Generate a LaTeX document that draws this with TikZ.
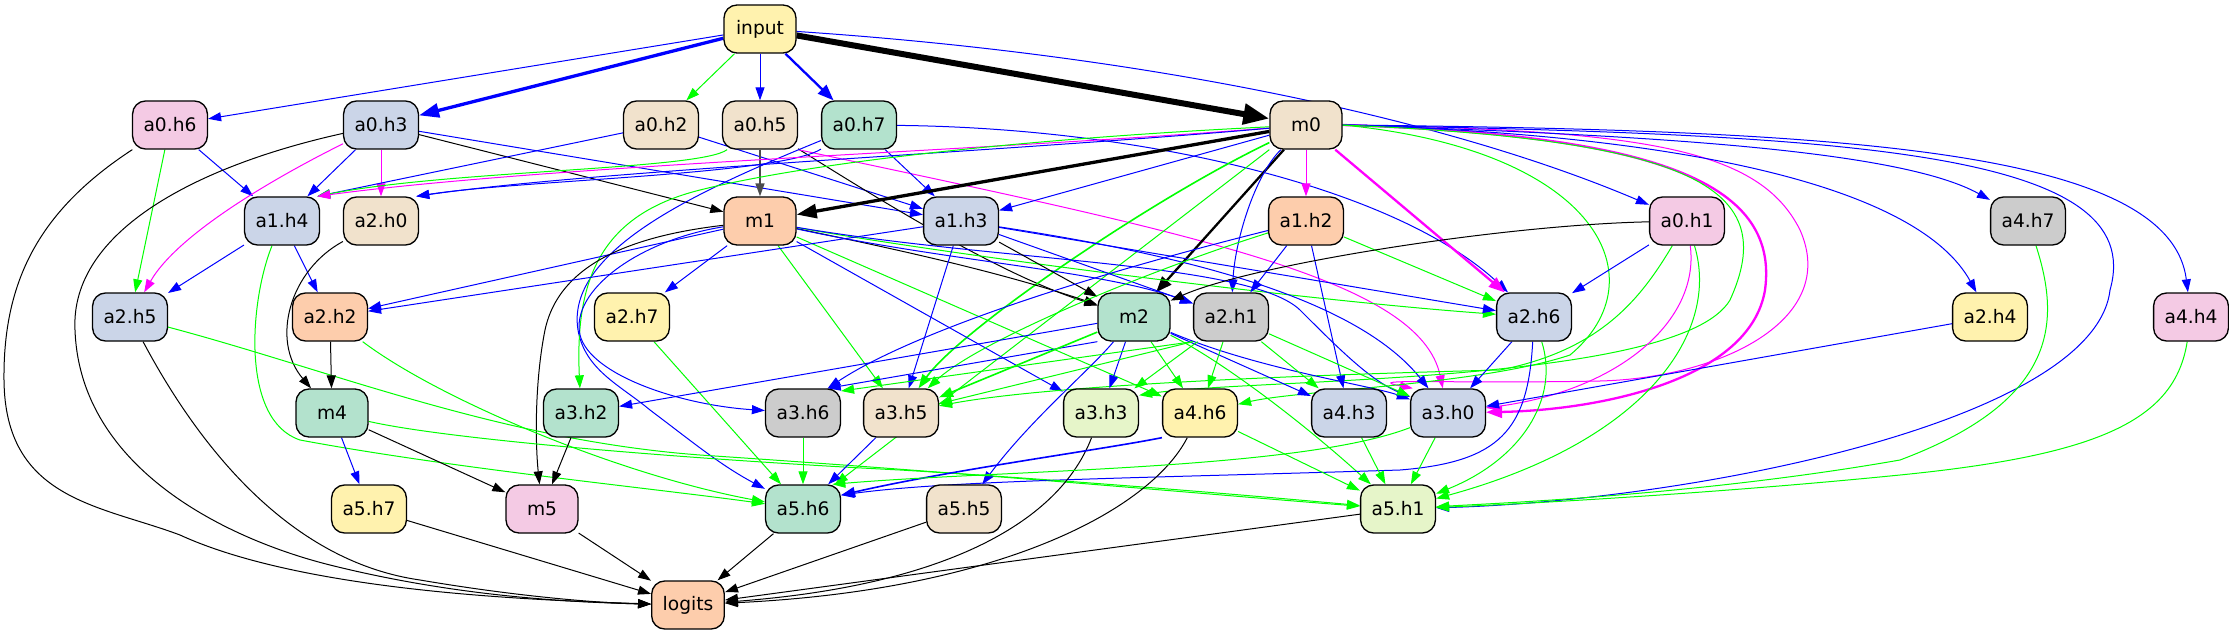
\documentclass[tikz,border=0pt]{standalone}
\usepackage{fontspec}
\setmainfont{DejaVu Sans}
\usetikzlibrary{arrows.meta}
\definecolor{pgreen}{HTML}{B3E2CD}
\definecolor{porange}{HTML}{FDCDAC}
\definecolor{pblue}{HTML}{CBD5E8}
\definecolor{ppink}{HTML}{F4CAE4}
\definecolor{plime}{HTML}{E6F5C9}
\definecolor{pyellow}{HTML}{FFF2AE}
\definecolor{ptan}{HTML}{F1E2CC}
\definecolor{pgray}{HTML}{CCCCCC}
\definecolor{eblue}{rgb}{0,0,1}
\definecolor{egreen}{rgb}{0,1,0}
\definecolor{emag}{rgb}{1,0,1}
\pgfdeclarelayer{bg}
\pgfsetlayers{bg,main}
\tikzset{
  nd/.style={draw=black, line width=1.33bp, rounded corners=13bp, minimum width=72bp, minimum height=48bp, inner xsep=11bp, inner ysep=0bp, font=\fontsize{18.7}{22}\selectfont},
  ed/.style={line width=1bp, -{Triangle[length=13bp,width=9bp]}},
  B/.style={ed, draw=eblue},
  G/.style={ed, draw=egreen},
  M/.style={ed, draw=emag},
  K/.style={ed, draw=black},
  w15/.style={line width=1.6bp, -{Triangle[length=14bp,width=10bp]}},
  w2/.style={line width=2.3bp, -{Triangle[length=16bp,width=12bp]}},
  w3/.style={line width=3.3bp, -{Triangle[length=20bp,width=14bp]}},
  w6/.style={line width=6bp, -{Triangle[length=26bp,width=20bp]}},
}
\begin{document}
\begin{tikzpicture}[x=1bp,y=-1bp]
\path[use as bounding box] (0,0) rectangle (2229,635);
% nodes
\node[nd, fill=pyellow] (input) at (760,29) {input};
\node[nd, fill=ppink] (a0h6) at (170,125) {a0.h6};
\node[nd, fill=pblue] (a0h3) at (381,125) {a0.h3};
\node[nd, fill=ptan] (a0h2) at (661,125) {a0.h2};
\node[nd, fill=ptan] (a0h5) at (760,125) {a0.h5};
\node[nd, fill=pgreen] (a0h7) at (859,125) {a0.h7};
\node[nd, fill=ptan] (m0) at (1306,125) {m0};
\node[nd, fill=pblue] (a1h4) at (282,221) {a1.h4};
\node[nd, fill=ptan] (a2h0) at (381,221) {a2.h0};
\node[nd, fill=porange] (m1) at (760,221) {m1};
\node[nd, fill=pblue] (a1h3) at (961,221) {a1.h3};
\node[nd, fill=porange] (a1h2) at (1306,221) {a1.h2};
\node[nd, fill=ppink] (a0h1) at (1687,221) {a0.h1};
\node[nd, fill=pgray] (a4h7) at (2028,221) {a4.h7};
\node[nd, fill=pblue] (a2h5) at (130,317) {a2.h5};
\node[nd, fill=porange] (a2h2) at (330,317) {a2.h2};
\node[nd, fill=pyellow] (a2h7) at (632,317) {a2.h7};
\node[nd, fill=pgreen] (m2) at (1134,317) {m2};
\node[nd, fill=pgray] (a2h1) at (1231,317) {a2.h1};
\node[nd, fill=pblue] (a2h6) at (1534,317) {a2.h6};
\node[nd, fill=pyellow] (a2h4) at (1990,317) {a2.h4};
\node[nd, fill=ppink] (a4h4) at (2191,317) {a4.h4};
\node[nd, fill=pgreen] (m4) at (332,413) {m4};
\node[nd, fill=pgreen] (a3h2) at (581,413) {a3.h2};
\node[nd, fill=pgray] (a3h6) at (803,413) {a3.h6};
\node[nd, fill=ptan] (a3h5) at (901,413) {a3.h5};
\node[nd, fill=plime] (a3h3) at (1101,413) {a3.h3};
\node[nd, fill=pyellow] (a4h6) at (1200,413) {a4.h6};
\node[nd, fill=pblue] (a4h3) at (1349,413) {a4.h3};
\node[nd, fill=pblue] (a3h0) at (1448,413) {a3.h0};
\node[nd, fill=pyellow] (a5h7) at (369,509) {a5.h7};
\node[nd, fill=ppink] (m5) at (542,509) {m5};
\node[nd, fill=pgreen] (a5h6) at (803,509) {a5.h6};
\node[nd, fill=ptan] (a5h5) at (964,509) {a5.h5};
\node[nd, fill=plime] (a5h1) at (1398,509) {a5.h1};
\node[nd, fill=porange] (logits) at (688,605) {logits};
\begin{pgfonlayer}{bg}
\fill[white] (0,0) rectangle (2229,635);
% input
\draw[B] (input) -- (a0h6);
\draw[B,w3] (input) -- (a0h3);
\draw[G] (input) -- (a0h2);
\draw[B] (input) -- (a0h5);
\draw[B,w2] (input) -- (a0h7);
\draw[K,w6] (input) -- (m0);
\draw[B] (input) .. controls (1150,55) and (1450,120) .. (a0h1);
% a0.h6
\draw[B] (a0h6) -- (a1h4);
\draw[G] (a0h6) -- (a2h5);
\draw[K] (a0h6) .. controls (40,210) and (3,280) .. (4,380) .. controls (5,500) and (100,505) .. (180,535) .. controls (300,590) and (520,600) .. (logits);
% a0.h3
\draw[B] (a0h3) -- (a1h4);
\draw[M] (a0h3) -- (a2h0);
\draw[M] (a0h3) .. controls (290,170) and (180,230) .. (a2h5);
\draw[K] (a0h3) -- (m1);
\draw[B] (a0h3) -- (a1h3);
\draw[K] (a0h3) .. controls (200,165) and (70,230) .. (75,330) .. controls (80,470) and (230,540) .. (330,565) .. controls (450,595) and (560,602) .. (logits);
% a0.h2
\draw[B] (a0h2) -- (a1h4.35);
\draw[B] (a0h2) -- (a1h3);
% a0.h5
\draw[K,line width=1.5bp,draw=black!70] (a0h5) -- (m1);
\draw[K] (a0h5) .. controls (880,200) and (1000,275) .. (m2);
\draw[M] (a0h5.south east) .. controls (1200,235) and (1420,280) .. (a3h0);
\draw[G] (a0h5) .. controls (700,170) and (450,170) .. (a1h4.35);
% a0.h7
\draw[B] (a0h7) -- (a1h3);
\draw[B] (a0h7) .. controls (1150,128) and (1400,190) .. (a2h6);
\draw[B] (a0h7) .. controls (780,175) and (520,180) .. (a2h0.35);
\draw[B] (a0h7) .. controls (700,190) and (565,250) .. (578,330) .. controls (585,370) and (620,385) .. (650,410) .. controls (690,440) and (720,465) .. (a5h6);
% m0
\draw[K,w3] (m0) -- (m1);
\draw[K,w2] (m0) -- (m2);
\draw[B] (m0) -- (a1h3);
\draw[M] (m0) -- (a1h2);
\draw[B] (m0) .. controls (1255,175) and (1235,240) .. (a2h1);
\draw[M,w2] (m0) -- (a2h6);
\draw[M,w2] (m0.east) .. controls (1650,135) and (1780,180) .. (1765,290) .. controls (1750,380) and (1600,410) .. (a3h0);
\draw[M] (m0.east) .. controls (1650,130) and (1760,150) .. (1800,230) .. controls (1840,320) and (1720,378) .. (1600,381) .. controls (1450,384) and (1360,378) .. (a3h0.145);
\draw[B] (m0.east) .. controls (1650,135) and (1900,150) .. (a4h7);
\draw[B] (m0.east) .. controls (1700,135) and (1920,190) .. (a2h4);
\draw[B] (m0.east) .. controls (1850,130) and (2170,150) .. (a4h4);
\draw[B] (m0.east) .. controls (1850,135) and (2150,150) .. (2110,290) .. controls (2095,420) and (1700,500) .. (a5h1);
\draw[M] (m0) .. controls (1000,150) and (550,165) .. (a1h4.35);
\draw[B] (m0) .. controls (1000,152) and (600,170) .. (a2h0.35);
\draw[G,w15] (m0) .. controls (1150,200) and (960,330) .. (a3h5);
\draw[G] (m0) .. controls (1000,140) and (800,165) .. (700,190) .. controls (600,215) and (575,280) .. (a3h2);
\draw[G] (m0.east) .. controls (1600,150) and (1660,280) .. (1570,355) .. controls (1480,385) and (1300,390) .. (a4h6);
\draw[G] (m0.east) .. controls (1700,140) and (1780,190) .. (1730,300) .. controls (1680,385) and (1250,378) .. (a3h3.25);
\draw[G] (m0.south west) -- (a5h6);
% a1.h4
\draw[B] (a1h4) -- (a2h5);
\draw[B] (a1h4) -- (a2h2);
\draw[G] (a1h4) .. controls (250,300) and (240,420) .. (300,440) .. controls (450,468) and (650,488) .. (a5h6);
% a2.h0
\draw[K] (a2h0) .. controls (290,270) and (270,340) .. (m4);
% m1
\draw[B] (m1) -- (a2h2);
\draw[B] (m1) -- (a2h7);
\draw[K] (m1) .. controls (900,250) and (1000,272) .. (m2);
\draw[B] (m1) .. controls (640,240) and (570,290) .. (580,335) .. controls (590,375) and (680,405) .. (a3h6);
\draw[K] (m1) .. controls (640,235) and (560,260) .. (545,330) .. controls (535,380) and (535,440) .. (m5);
\draw[G] (m1) -- (a3h5);
\draw[B] (m1) -- (a3h3);
\draw[G] (m1) -- (a4h6);
\draw[G] (m1) .. controls (950,255) and (1300,300) .. (a2h6);
\draw[B] (m1) .. controls (1000,262) and (1250,262) .. (1300,310) .. controls (1340,350) and (1370,380) .. (a3h0);
\draw[B] (m1) .. controls (950,262) and (1100,270) .. (a2h1);
% a1.h3
\draw[B] (a1h3) -- (a2h2);
\draw[K] (a1h3) -- (m2);
\draw[B] (a1h3) -- (a3h5);
\draw[B] (a1h3) -- (a2h6);
\draw[B] (a1h3) .. controls (1150,250) and (1350,290) .. (a3h0);
\draw[B] (a1h3) -- (a2h1);
% a1.h2
\draw[B] (a1h2) -- (a2h1);
\draw[B] (a1h2) -- (a4h3);
\draw[G] (a1h2) -- (a2h6);
\draw[G] (a1h2) .. controls (1150,270) and (980,340) .. (a3h5);
\draw[B] (a1h2) .. controls (1050,285) and (900,340) .. (a3h6.45);
% a0.h1
\draw[K] (a0h1) .. controls (1500,225) and (1250,265) .. (m2);
\draw[B] (a0h1) -- (a2h6);
\draw[G] (a0h1) .. controls (1640,300) and (1600,350) .. (1500,370) .. controls (1300,375) and (1050,385) .. (a3h5);
\draw[M] (a0h1) .. controls (1700,320) and (1620,390) .. (a3h0);
\draw[G] (a0h1) .. controls (1720,330) and (1650,440) .. (a5h1);
% a4.h7
\draw[G] (a4h7) .. controls (2060,320) and (2060,400) .. (1900,460) .. controls (1700,495) and (1500,503) .. (a5h1);
% a2.h5
\draw[G] (a2h5) .. controls (330,370) and (500,440) .. (700,455) .. controls (1000,475) and (1250,498) .. (a5h1);
\draw[K] (a2h5) .. controls (190,430) and (280,560) .. (420,580) .. controls (520,597) and (600,603) .. (logits);
% a2.h2
\draw[K] (a2h2) -- (m4);
\draw[G] (a2h2) .. controls (440,400) and (620,475) .. (a5h6);
% a2.h7
\draw[G] (a2h7) -- (a5h6);
% m2
\draw[B] (m2) -- (a3h2);
\draw[B] (m2.south west) -- (a3h6.45);
\draw[G,w15] (m2) -- (a3h5);
\draw[B] (m2) -- (a3h3);
\draw[G] (m2) -- (a4h6);
\draw[B] (m2) -- (a4h3);
\draw[B] (m2) .. controls (1260,370) and (1370,385) .. (a3h0);
\draw[B] (m2) .. controls (1090,370) and (1030,420) .. (a5h5);
\draw[G] (m2) .. controls (1220,360) and (1300,420) .. (a5h1);
% a2.h1
\draw[G] (a2h1.south west) -- (a3h6.30);
\draw[G] (a2h1.south west) -- (a3h5);
\draw[G] (a2h1) -- (a3h3);
\draw[G] (a2h1) -- (a4h6);
\draw[G] (a2h1) -- (a4h3);
\draw[G] (a2h1) -- (a3h0);
% a2.h6
\draw[B] (a2h6) -- (a3h0);
\draw[B] (a2h6) .. controls (1528,430) and (1500,462) .. (1400,470) .. controls (1150,478) and (950,480) .. (a5h6.20);
\draw[G] (a2h6) .. controls (1560,400) and (1520,460) .. (a5h1);
% a2.h4
\draw[B] (a2h4) -- (a3h0);
% a4.h4
\draw[G] (a4h4) .. controls (2175,420) and (2100,455) .. (1900,475) .. controls (1700,495) and (1500,505) .. (a5h1);
% m4
\draw[B] (m4) -- (a5h7);
\draw[K] (m4) -- (m5);
\draw[G] (m4) .. controls (450,440) and (700,460) .. (900,470) .. controls (1100,482) and (1300,500) .. (a5h1);
% row 4
\draw[K] (a3h2) -- (m5);
\draw[G] (a3h6) -- (a5h6);
\draw[B] (a3h5) -- (a5h6);
\draw[K] (a3h3) .. controls (1060,520) and (950,585) .. (logits);
\draw[B,w15] (a4h6.south west) .. controls (1100,450) and (950,470) .. (a5h6.20);
\draw[G] (a4h6) -- (a5h1);
\draw[K] (a4h6) .. controls (1150,510) and (1000,590) .. (logits);
\draw[G] (a4h3) -- (a5h1);
\draw[G] (a3h0) -- (a5h1);
\draw[G] (a3h0) .. controls (1300,470) and (1000,470) .. (a5h6.40);
% row 5
\draw[K] (a5h7) -- (logits);
\draw[K] (m5) -- (logits);
\draw[K] (a5h6) -- (logits);
\draw[K] (a5h5) -- (logits);
\draw[K] (a5h1) -- (logits);
\end{pgfonlayer}
\end{tikzpicture}
\end{document}
